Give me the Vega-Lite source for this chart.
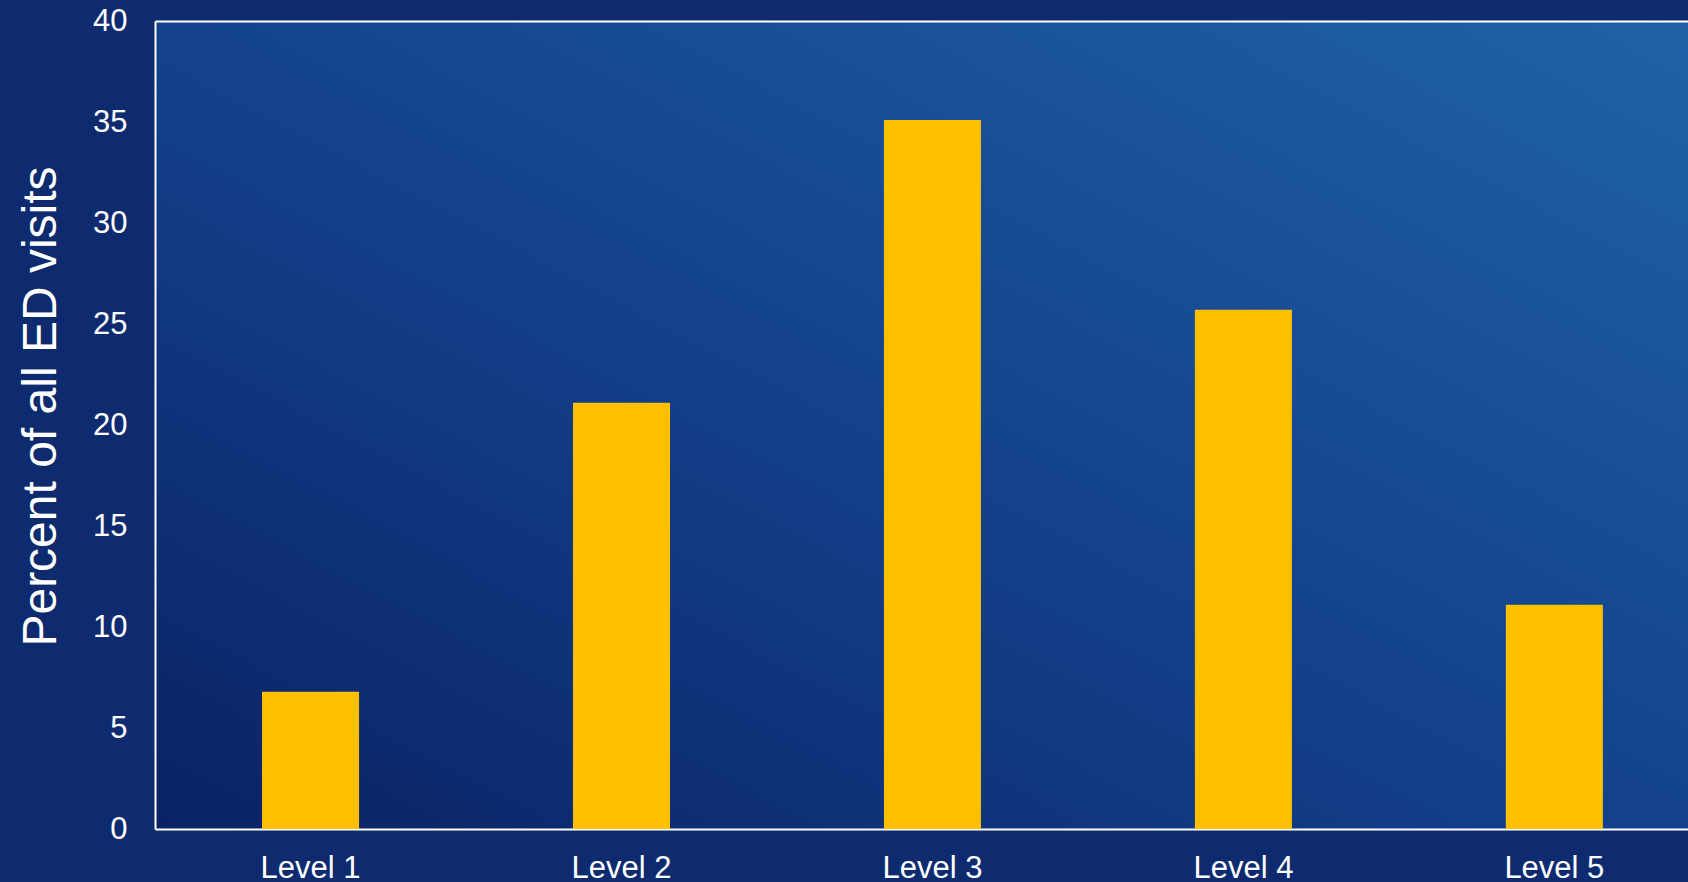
{
  "$schema": "https://vega.github.io/schema/vega-lite/v6.json",
  "width": 1533,
  "height": 808,
  "autosize": "none",
  "padding": {"left": 155, "top": 21, "right": 0, "bottom": 53},
  "background": "#0e2b6f",
  "config": {
    "font": "Liberation Sans",
    "view": {
      "stroke": null,
      "fill": {"gradient": "linear", "x1": 0, "y1": 1, "x2": 1, "y2": 0, "stops": [{"offset": 0, "color": "#0a2265"}, {"offset": 0.5, "color": "#14428d"}, {"offset": 1, "color": "#1f62a8"}]}
    }
  },
  "data": {
    "values": [
      {"level": "Level 1", "percent": 6.8},
      {"level": "Level 2", "percent": 21.1},
      {"level": "Level 3", "percent": 35.1},
      {"level": "Level 4", "percent": 25.7},
      {"level": "Level 5", "percent": 11.1}
    ]
  },
  "encoding": {
    "y": {
      "field": "percent",
      "type": "quantitative",
      "scale": {"domain": [0, 40], "nice": false},
      "axis": {
        "title": "Percent of all ED visits",
        "titleFontSize": 48,
        "titleFontWeight": "normal",
        "titleColor": "white",
        "titleAngle": -90,
        "titleAlign": "center",
        "titleBaseline": "alphabetic",
        "titleX": -100,
        "titleY": 385,
        "values": [0, 5, 10, 15, 20, 25, 30, 35, 40],
        "labelFontSize": 31,
        "labelColor": "white",
        "labelPadding": 28,
        "ticks": false,
        "grid": false,
        "domainColor": "white",
        "domainWidth": 2
      }
    }
  },
  "layer": [
    {
      "mark": {"type": "bar", "color": "#FFC000"},
      "encoding": {
        "x": {
          "field": "level",
          "type": "nominal",
          "sort": null,
          "scale": {"paddingInner": 0.688, "paddingOuter": 0.309, "align": 0.557},
          "axis": {
            "title": null,
            "labelAngle": 0,
            "labelFontSize": 31,
            "labelColor": "white",
            "labelPadding": 24,
            "ticks": false,
            "domainColor": "white",
            "domainWidth": 2
          }
        }
      }
    },
    {
      "mark": {"type": "bar", "opacity": 0},
      "encoding": {
        "x": {
          "field": "level",
          "type": "nominal",
          "sort": null,
          "axis": {
            "orient": "top",
            "title": null,
            "labels": false,
            "ticks": false,
            "domainColor": "white",
            "domainWidth": 2
          }
        }
      }
    }
  ],
  "resolve": {"axis": {"x": "independent"}}
}
